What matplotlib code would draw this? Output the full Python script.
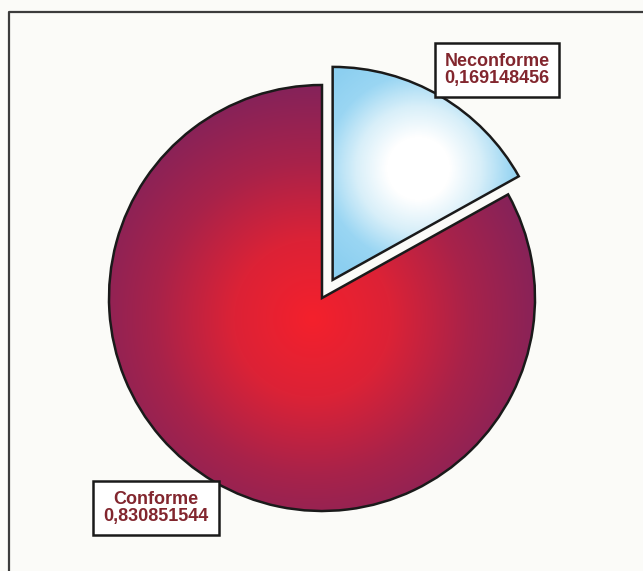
import matplotlib
matplotlib.use("Agg")
import matplotlib.pyplot as plt
import numpy as np
from matplotlib.colors import LinearSegmentedColormap

labels = ["Neconforme", "Conforme"]
values = [0.169148456, 0.830851544]
value_text = ["0,169148456", "0,830851544"]

W, H = 643, 571
fig = plt.figure(figsize=(W / 100, H / 100), dpi=100)
fig.patch.set_facecolor("#fbfbf8")
ax = fig.add_axes([0, 0, 1, 1])

# frame (only top and left edges are visible in the scan)
ax.plot([8.5, 8.5, W], [0, H - 11.5, H - 11.5], color="#3c3c3c", lw=1.6)

center = (322, H - 298)
radius = 213
wedges, _ = ax.pie(values, startangle=90, counterclock=False,
                   explode=[21, 0], center=center, radius=radius,
                   wedgeprops=dict(edgecolor="#1a1a1a", linewidth=1.8))

yy, xx = np.mgrid[0:H, 0:W]
yy = H - yy  # image rows top-down

# radial gradients: (centre, radius, colours)
grads = [
    ((418, H - 168), 125, ["#ffffff", "#ffffff", "#d8eff9", "#9ad6f3", "#8ccff0"]),
    ((312, H - 318), 235, ["#f4202c", "#dc2236", "#a8224a", "#84225a"]),
]
for wedge, (gc, gr, cols) in zip(wedges, grads):
    cmap = LinearSegmentedColormap.from_list("g", cols)
    d = np.clip(np.hypot(xx - gc[0], yy - gc[1]) / gr, 0, 1)
    im = ax.imshow(cmap(d), extent=(0, W, 0, H), origin="upper",
                   zorder=wedge.get_zorder() - 0.1, interpolation="bilinear")
    im.set_clip_path(wedge)
    wedge.set_facecolor("none")

ax.set_xlim(0, W)
ax.set_ylim(0, H)
ax.set_aspect("equal")
ax.axis("off")

label_pos = [(497, H - 70), (156, H - 508)]
for lab, val, (x, y) in zip(labels, value_text, label_pos):
    ax.text(x, y, f"{lab}\n{val}", ha="center", va="center",
            fontsize=13, fontweight="bold", family="Liberation Sans",
            color="#82262e", linespacing=1.0,
            bbox=dict(boxstyle="square,pad=0.55", facecolor="white",
                      edgecolor="#1a1a1a", linewidth=1.8), zorder=5)

plt.savefig("out.png", dpi=100, facecolor=fig.get_facecolor())
